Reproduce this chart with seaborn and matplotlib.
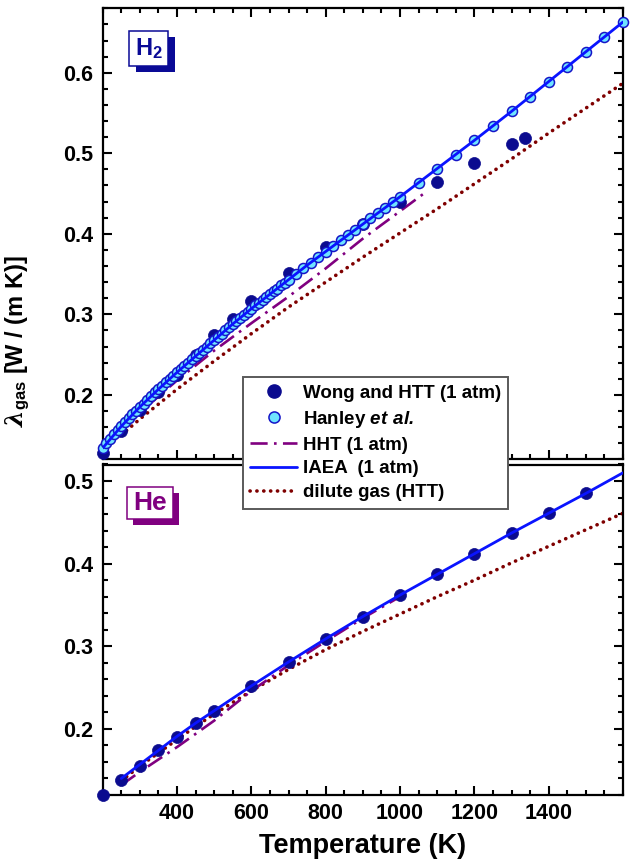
import matplotlib
matplotlib.use("Agg")
import matplotlib.pyplot as plt
from matplotlib.lines import Line2D
from matplotlib.patches import Rectangle
from matplotlib.ticker import MultipleLocator, FixedLocator, FormatStrFormatter
import seaborn as sns

# ---------------- H2 data (W / (m K)) ----------------
h2_wong_T = [200, 250, 300, 350, 400, 450, 500, 550, 600, 700, 800, 900,
             1000, 1100, 1200, 1300, 1335]
h2_wong_k = [0.128, 0.155, 0.181, 0.204, 0.225, 0.250, 0.274, 0.294, 0.316,
             0.351, 0.384, 0.412, 0.440, 0.464, 0.488, 0.512, 0.519]

h2_hanley_T = [200, 210, 220, 230, 240, 250, 260, 270, 280, 290,
               300, 310, 320, 330, 340, 350, 360, 370, 380, 390,
               400, 410, 420, 430, 440, 450, 460, 470, 480, 490,
               500, 510, 520, 530, 540, 550, 560, 570, 580, 590,
               600, 610, 620, 630, 640, 650, 660, 670, 680, 690,
               700, 720, 740, 760, 780, 800, 820, 840, 860, 880,
               900, 920, 940, 960, 980, 1000, 1050, 1100, 1150, 1200,
               1250, 1300, 1350, 1400, 1450, 1500, 1550, 1600]
h2_hanley_k = [0.134, 0.140, 0.145, 0.151, 0.156, 0.161, 0.166, 0.171, 0.176, 0.180,
               0.185, 0.189, 0.194, 0.198, 0.203, 0.207, 0.211, 0.216, 0.220, 0.224,
               0.228, 0.232, 0.236, 0.240, 0.244, 0.248, 0.252, 0.256, 0.260, 0.264,
               0.268, 0.272, 0.276, 0.280, 0.284, 0.288, 0.292, 0.296, 0.299, 0.303,
               0.307, 0.311, 0.314, 0.318, 0.321, 0.325, 0.329, 0.332, 0.336, 0.339,
               0.343, 0.350, 0.357, 0.364, 0.371, 0.378, 0.385, 0.392, 0.398, 0.405,
               0.412, 0.419, 0.426, 0.432, 0.439, 0.446, 0.463, 0.481, 0.498, 0.516,
               0.534, 0.552, 0.570, 0.589, 0.607, 0.626, 0.644, 0.663]

h2_hht_T = [250, 300, 350, 400, 500, 600, 700, 800, 900, 1000, 1070]
h2_hht_k = [0.156, 0.178, 0.198, 0.218, 0.255, 0.289, 0.322, 0.357, 0.394, 0.428, 0.452]

h2_iaea_T = [200, 250, 300, 350, 400, 450, 500, 550, 600, 650, 700, 750, 800,
             850, 900, 950, 1000, 1100, 1200, 1300, 1400, 1500, 1600]
h2_iaea_k = [0.134, 0.161, 0.185, 0.207, 0.228, 0.248, 0.268, 0.288, 0.307, 0.325,
             0.343, 0.361, 0.378, 0.395, 0.412, 0.429, 0.446, 0.481, 0.516, 0.552,
             0.589, 0.626, 0.663]

h2_dilute_T = [250, 300, 400, 500, 600, 700, 800, 900, 1000, 1100, 1200, 1300,
               1400, 1500, 1600]
h2_dilute_k = [0.150, 0.170, 0.207, 0.242, 0.276, 0.309, 0.340, 0.371, 0.401,
               0.431, 0.462, 0.493, 0.525, 0.556, 0.587]

# ---------------- He data (W / (m K)) ----------------
he_wong_T = [200, 250, 300, 350, 400, 450, 500, 600, 700, 800, 900, 1000,
             1100, 1200, 1300, 1400, 1500]
he_wong_k = [0.120, 0.138, 0.155, 0.174, 0.190, 0.207, 0.222, 0.252, 0.281,
             0.309, 0.336, 0.362, 0.387, 0.412, 0.437, 0.461, 0.485]

he_hht_T = [250, 300, 350, 400, 500, 600, 700, 800, 900, 1000]
he_hht_k = [0.132, 0.148, 0.163, 0.178, 0.210, 0.246, 0.277, 0.306, 0.334, 0.360]

he_iaea_T = [250, 300, 350, 400, 450, 500, 600, 700, 800, 900, 1000, 1100,
             1200, 1300, 1400, 1500, 1600]
he_iaea_k = [0.140, 0.157, 0.174, 0.191, 0.207, 0.222, 0.252, 0.281, 0.309,
             0.336, 0.362, 0.387, 0.412, 0.437, 0.461, 0.485, 0.510]

he_dilute_T = [250, 300, 350, 400, 450, 500, 600, 700, 800, 900, 1000, 1100,
               1200, 1300, 1400, 1500, 1600]
he_dilute_k = [0.137, 0.155, 0.171, 0.187, 0.203, 0.218, 0.246, 0.272, 0.296,
               0.318, 0.339, 0.360, 0.380, 0.401, 0.421, 0.441, 0.461]

x_ticks = [400, 600, 800, 1000, 1200, 1400]
legend_labels = ["Wong and HTT (1 atm)", r"Hanley $\mathbfit{et\ al.}$",
                 "HHT (1 atm)", "IAEA  (1 atm)", "dilute gas (HTT)"]

# ---------------- style ----------------
WONG_C = "#0b0b8f"
HANLEY_FACE = "#6fe4ff"
HANLEY_EDGE = "#1414c8"
IAEA_C = "#0a14ff"
HHT_C = "#800080"
DILUTE_C = "#7f0000"
H2_C = "#0a0a96"
HE_C = "#800080"

sns.set_style("ticks")
plt.rcParams["font.family"] = ["Liberation Sans", "DejaVu Sans"]
plt.rcParams["font.weight"] = "bold"
plt.rcParams["axes.labelweight"] = "bold"
for key in ("text.color", "axes.labelcolor", "xtick.color", "ytick.color",
            "axes.edgecolor"):
    plt.rcParams[key] = "black"
plt.rcParams["mathtext.fontset"] = "custom"
plt.rcParams["mathtext.rm"] = "Liberation Sans:bold"
plt.rcParams["mathtext.bf"] = "Liberation Sans:bold"
plt.rcParams["mathtext.it"] = "DejaVu Serif:italic"
plt.rcParams["mathtext.bfit"] = "Liberation Sans:italic:bold"

W, H = 631, 859
fig = plt.figure(figsize=(W / 100, H / 100), dpi=100)


def fx(px):
    return px / W


def fy(py):
    return 1 - py / H


left, right = 102.7, 623.0
ax_top = fig.add_axes([fx(left), fy(459.3), fx(right) - fx(left), fy(8.3) - fy(459.3)])
ax_bot = fig.add_axes([fx(left), fy(795.0), fx(right) - fx(left), fy(464.5) - fy(795.0)])

DASHDOT = (0, (6.5, 2.4, 1, 2.4))
DOTTED = (0, (0.05, 1.85))


def draw_panel(ax, wong_T, wong_k, hht_T, hht_k, iaea_T, iaea_k, dil_T, dil_k,
               hanley_T=None, hanley_k=None):
    sns.lineplot(x=dil_T, y=dil_k, ax=ax, color=DILUTE_C, linewidth=2.6,
                 linestyle=DOTTED, dash_capstyle="round", errorbar=None,
                 sort=False, zorder=2)
    sns.lineplot(x=hht_T, y=hht_k, ax=ax, color=HHT_C, linewidth=1.9,
                 linestyle=DASHDOT, errorbar=None, sort=False, zorder=2)
    sns.scatterplot(x=wong_T, y=wong_k, ax=ax, color=WONG_C, s=75,
                    edgecolor=WONG_C, linewidth=0.5, zorder=3, clip_on=False,
                    legend=False)
    if hanley_T is not None:
        sns.scatterplot(x=hanley_T, y=hanley_k, ax=ax, color=HANLEY_FACE, s=52,
                        edgecolor=HANLEY_EDGE, linewidth=1.1, zorder=4,
                        clip_on=False, legend=False)
    sns.lineplot(x=iaea_T, y=iaea_k, ax=ax, color=IAEA_C, linewidth=2.0,
                 errorbar=None, sort=False, zorder=5)


draw_panel(ax_top, h2_wong_T, h2_wong_k, h2_hht_T, h2_hht_k, h2_iaea_T, h2_iaea_k,
           h2_dilute_T, h2_dilute_k, h2_hanley_T, h2_hanley_k)
draw_panel(ax_bot, he_wong_T, he_wong_k, he_hht_T, he_hht_k, he_iaea_T, he_iaea_k,
           he_dilute_T, he_dilute_k)

for ax, ylim, top in ((ax_top, (0.12, 0.68), True), (ax_bot, (0.12, 0.52), False)):
    ax.set_xlim(200, 1600)
    ax.set_ylim(*ylim)
    ax.xaxis.set_major_locator(FixedLocator(x_ticks))
    ax.xaxis.set_minor_locator(MultipleLocator(50))
    ax.yaxis.set_major_locator(MultipleLocator(0.1))
    ax.yaxis.set_minor_locator(MultipleLocator(0.02))
    ax.yaxis.set_major_formatter(FormatStrFormatter("%.1f"))
    ax.tick_params(which="both", direction="in", top=top, right=True,
                   color="black", width=1.5, labelcolor="black")
    ax.tick_params(which="major", length=6.5, labelsize=15.5, pad=7)
    ax.tick_params(which="minor", length=3.5)
    for sp in ax.spines.values():
        sp.set_linewidth(1.6)
        sp.set_color("black")
    ax.set_xlabel("")
    ax.set_ylabel("")

ax_top.tick_params(labelbottom=False)
ax_bot.tick_params(axis="x", pad=5.5)
ax_bot.set_xlabel("Temperature (K)", fontsize=19.5, labelpad=7, color="black")

fig.text(fx(18), fy(341), r"$\lambda_{\mathbf{gas}}$ [W / (m K)]", rotation=90,
         ha="center", va="center", fontsize=17, color="black")


# gas name tags with a solid drop shadow
def tag(x0, y0, x1, y1, dx, dy, text, color, size):
    fig.add_artist(Rectangle((fx(x0 + dx), fy(y1 + dy)), fx(x1 - x0), fy(y0) - fy(y1),
                             transform=fig.transFigure, facecolor=color,
                             edgecolor=color, linewidth=0, zorder=6))
    fig.add_artist(Rectangle((fx(x0), fy(y1)), fx(x1 - x0), fy(y0) - fy(y1),
                             transform=fig.transFigure, facecolor="white",
                             edgecolor=color, linewidth=1.1, zorder=7))
    fig.text(fx((x0 + x1) / 2), fy((y0 + y1) / 2), text, color=color, fontsize=size,
             ha="center", va="center", zorder=8)


tag(129, 30.7, 168.3, 65.7, 7, 6, r"H$_{\mathbf{2}}$", H2_C, 17)
tag(126.7, 486.7, 173.3, 519, 6, 6, "He", HE_C, 19)

handles = [
    Line2D([], [], ls="", marker="o", ms=9.5, mfc=WONG_C, mec=WONG_C),
    Line2D([], [], ls="", marker="o", ms=8, mfc=HANLEY_FACE, mec=HANLEY_EDGE, mew=1.1),
    Line2D([], [], color=HHT_C, lw=1.9, ls=DASHDOT),
    Line2D([], [], color=IAEA_C, lw=2.0),
    Line2D([], [], color=DILUTE_C, lw=2.6, ls=DOTTED, dash_capstyle="round"),
]
leg = fig.legend(handles, legend_labels, loc="upper left",
                 bbox_to_anchor=(fx(242.7), fy(377.3)), borderaxespad=0,
                 fontsize=13.5, handlelength=2.5, handletextpad=0.3,
                 labelspacing=0.36, borderpad=0.4, frameon=True, fancybox=False,
                 framealpha=1, edgecolor="#5a5a5a", numpoints=1)
leg.get_frame().set_linewidth(1.4)
leg.set_zorder(10)
for t in leg.get_texts():
    t.set_color("black")

fig.savefig("out.png", dpi=100)
